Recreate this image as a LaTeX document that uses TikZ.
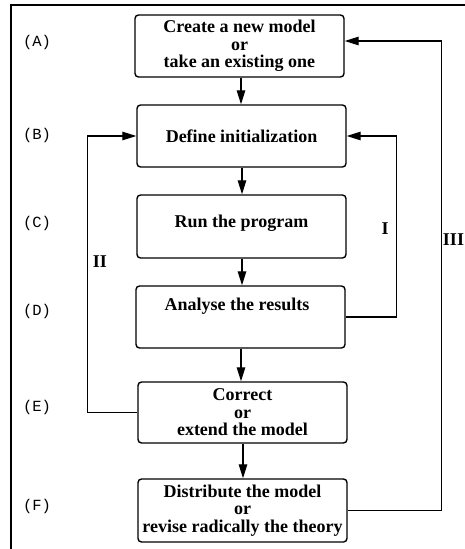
\documentclass[tikz,border=0pt]{standalone}
\usepackage{fontspec}
\setmainfont{Liberation Serif}
\setmonofont{Liberation Mono}
\usetikzlibrary{arrows.meta,calc}
\begin{document}
\begin{tikzpicture}[x=1pt,y=-1pt,
  box/.style={draw, line width=1.4pt, rounded corners=3.5pt, minimum width=209pt, inner sep=0pt, align=center,
    font=\fontsize{18pt}{17.5pt}\selectfont\bfseries},
  txt/.style={inner sep=0pt, align=center, font=\fontsize{18pt}{17.5pt}\selectfont\bfseries},
  arr/.style={line width=1.2pt, -{Triangle[length=14pt,width=8.5pt]}},
  tag/.style={inner sep=0pt, font=\fontsize{15.5pt}{16pt}\selectfont\ttfamily},
  roman/.style={inner sep=0pt, font=\fontsize{18pt}{18pt}\selectfont\bfseries}]
\useasboundingbox (0,0) rectangle (465,549);
% frame
\draw[line width=2pt] (11,549) -- (11,5) -- (466,5);
% boxes
\node[box, minimum height=62pt] (A) at (239.5,46) {Create a new model\\or\\take an existing one};
\node[box, minimum height=62pt] (B) at (241.5,136) {Define initialization};
\node[box, minimum height=63pt] (C) at (241.5,226.5) {};
\node[txt] (Ct) at (241.5,223) {Run the program};
\node[box, minimum height=62pt] (D) at (240.5,317) {};
\node[txt] (Dt) at (237,306) {Analyse the results};
\node[box, minimum height=61pt] (E) at (242.5,412.5) {Correct\\or\\extend the model};
\node[box, minimum height=63pt] (F) at (242.5,510.5) {Distribute the model\\or\\revise radically the theory};
% stage tags
\node[tag] (tA) at (37,42) {(A)};
\node[tag] (tB) at (37,135) {(B)};
\node[tag] (tC) at (37,223) {(C)};
\node[tag] (tD) at (37,311) {(D)};
\node[tag] (tE) at (37,407) {(E)};
\node[tag] (tF) at (37,506) {(F)};
% main flow
\draw[arr] (A.south -| 241,0) -- (B.north -| 241,0);
\draw[arr] (B.south -| 242,0) -- (C.north -| 242,0);
\draw[arr] (C.south -| 242,0) -- (D.north -| 242,0);
\draw[arr] (D.south -| 241,0) -- (E.north -| 241,0);
\draw[arr] (E.south -| 243,0) -- (F.north -| 243,0);
% loops
\draw[arr] (D.east) -- ++(51,0) |- (B.east);
\draw[arr] (E.west) -- ++(-50,0) |- (B.west);
\draw[arr] (F.east) -- ++(94,0) |- ([yshift=5pt]A.east);
% loop labels
\node[roman] (lI) at (385,229) {I};
\node[roman] (lII) at (100,262) {II};
\node[roman] (lIII) at (453.5,240) {III};
\end{tikzpicture}
\end{document}
